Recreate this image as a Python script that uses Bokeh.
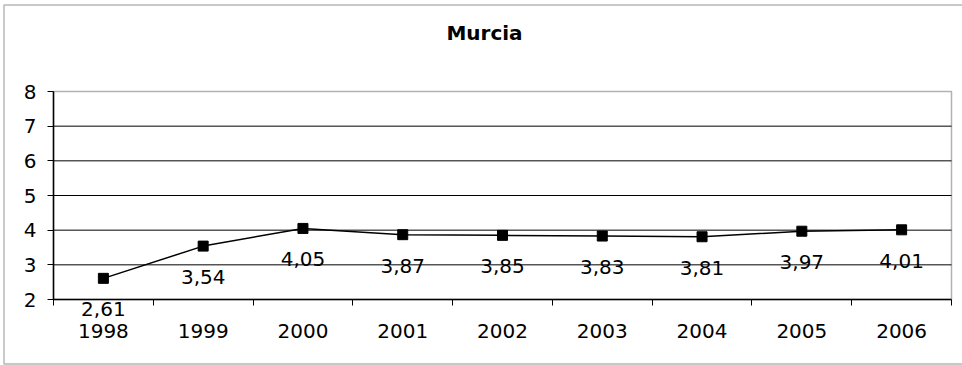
from bokeh.plotting import figure
from bokeh.models import ColumnDataSource, Range1d, FixedTicker, Label, BoxAnnotation
from bokeh.core.properties import value
from bokeh.embed import file_html
from bokeh.resources import INLINE

# Data series
years = ["1998", "1999", "2000", "2001", "2002", "2003", "2004", "2005", "2006"]
values = [2.61, 3.54, 4.05, 3.87, 3.85, 3.83, 3.81, 3.97, 4.01]
y_ticks = [2, 3, 4, 5, 6, 7, 8]
title_text = "Murcia"

FONT = "DejaVu Sans"
W, H = 962, 365
# plot-area box in canvas pixels (left, right, top, bottom)
PL, PR, PT, PB = 53, 951, 91, 299

n = len(years)
xs = list(range(n))
x_lo, x_hi = -0.5, n - 0.5
y_lo, y_hi = y_ticks[0], y_ticks[-1]

# The frame covers the whole canvas; the axes sit at fixed locations inside it
kx = (PR - PL) / (x_hi - x_lo)
ky = (PB - PT) / (y_hi - y_lo)
x_range = Range1d(x_lo - PL / kx, x_hi + (W - PR) / kx)
y_range = Range1d(y_lo - (H - PB) / ky, y_hi + PT / ky)

labels = [f"{v:.2f}".replace(".", ",") for v in values]
src = ColumnDataSource(dict(x=xs, y=values, label=labels))

p = figure(width=W, height=H, output_backend="svg", toolbar_location=None,
           x_range=x_range, y_range=y_range,
           min_border_left=0, min_border_right=0, min_border_top=0,
           min_border_bottom=0)
p.title.visible = False
p.background_fill_color = "white"
p.border_fill_color = "white"
p.outline_line_color = None
p.xgrid.grid_line_color = None
p.ygrid.grid_line_color = None

# x axis: year labels at category centres, short ticks at category boundaries
p.xaxis.fixed_location = y_lo
p.xaxis.bounds = (x_lo, x_hi)
p.xaxis.ticker = FixedTicker(ticks=xs, minor_ticks=[i - 0.5 for i in range(n + 1)])
p.xaxis.major_label_overrides = {i: y for i, y in enumerate(years)}
p.xaxis.major_tick_out = 0
p.xaxis.major_tick_in = 0
p.xaxis.minor_tick_out = 6
p.xaxis.minor_tick_in = 0
p.xaxis.minor_tick_line_color = "black"
p.xaxis.major_label_standoff = 18

p.yaxis.fixed_location = x_lo
p.yaxis.bounds = (y_lo, y_hi)
p.yaxis.ticker = FixedTicker(ticks=y_ticks)
p.yaxis.major_tick_out = 6
p.yaxis.major_tick_in = 0
p.yaxis.minor_tick_line_color = None
p.yaxis.major_label_standoff = 11

for ax in (p.xaxis, p.yaxis):
    ax.axis_line_color = "black"
    ax.axis_line_width = 1.5
    ax.major_tick_line_color = "black"
    ax.major_label_text_font = FONT
    ax.major_label_text_font_size = "20px"
    ax.major_label_text_color = "black"

# Horizontal rules across the plot area
rules = y_ticks[1:-1]
p.segment(x0=[x_lo] * len(rules), x1=[x_hi] * len(rules), y0=rules, y1=rules,
          line_color="black", line_width=1)

# Plot-area box
p.add_layout(BoxAnnotation(left=x_lo, right=x_hi, bottom=y_lo, top=y_hi,
                           fill_color=None, line_color="black", line_width=1.5))

# Series line, markers and value labels
p.line("x", "y", source=src, line_color="black", line_width=1.5)
p.scatter("x", "y", source=src, marker="square", size=10,
          fill_color="black", line_color="black")
p.text("x", "y", text="label", source=src, y_offset=31,
       text_align="center", text_baseline="middle",
       text_font=value(FONT), text_font_size="20px", text_color="black")

# Chart title
p.add_layout(Label(x=484, y=32, x_units="canvas", y_units="canvas",
                   text=title_text, text_align="center", text_baseline="middle",
                   text_font=FONT, text_font_size="20px",
                   text_font_style="bold", text_color="black"))

# Outer chart border
p.add_layout(BoxAnnotation(left=3.5, right=W + 10, top=4.5, bottom=363.5,
                           left_units="canvas", right_units="canvas",
                           top_units="canvas", bottom_units="canvas",
                           fill_color=None, line_color="#111111", line_width=1.5))

open("out.html", "w").write(file_html(p, INLINE))
